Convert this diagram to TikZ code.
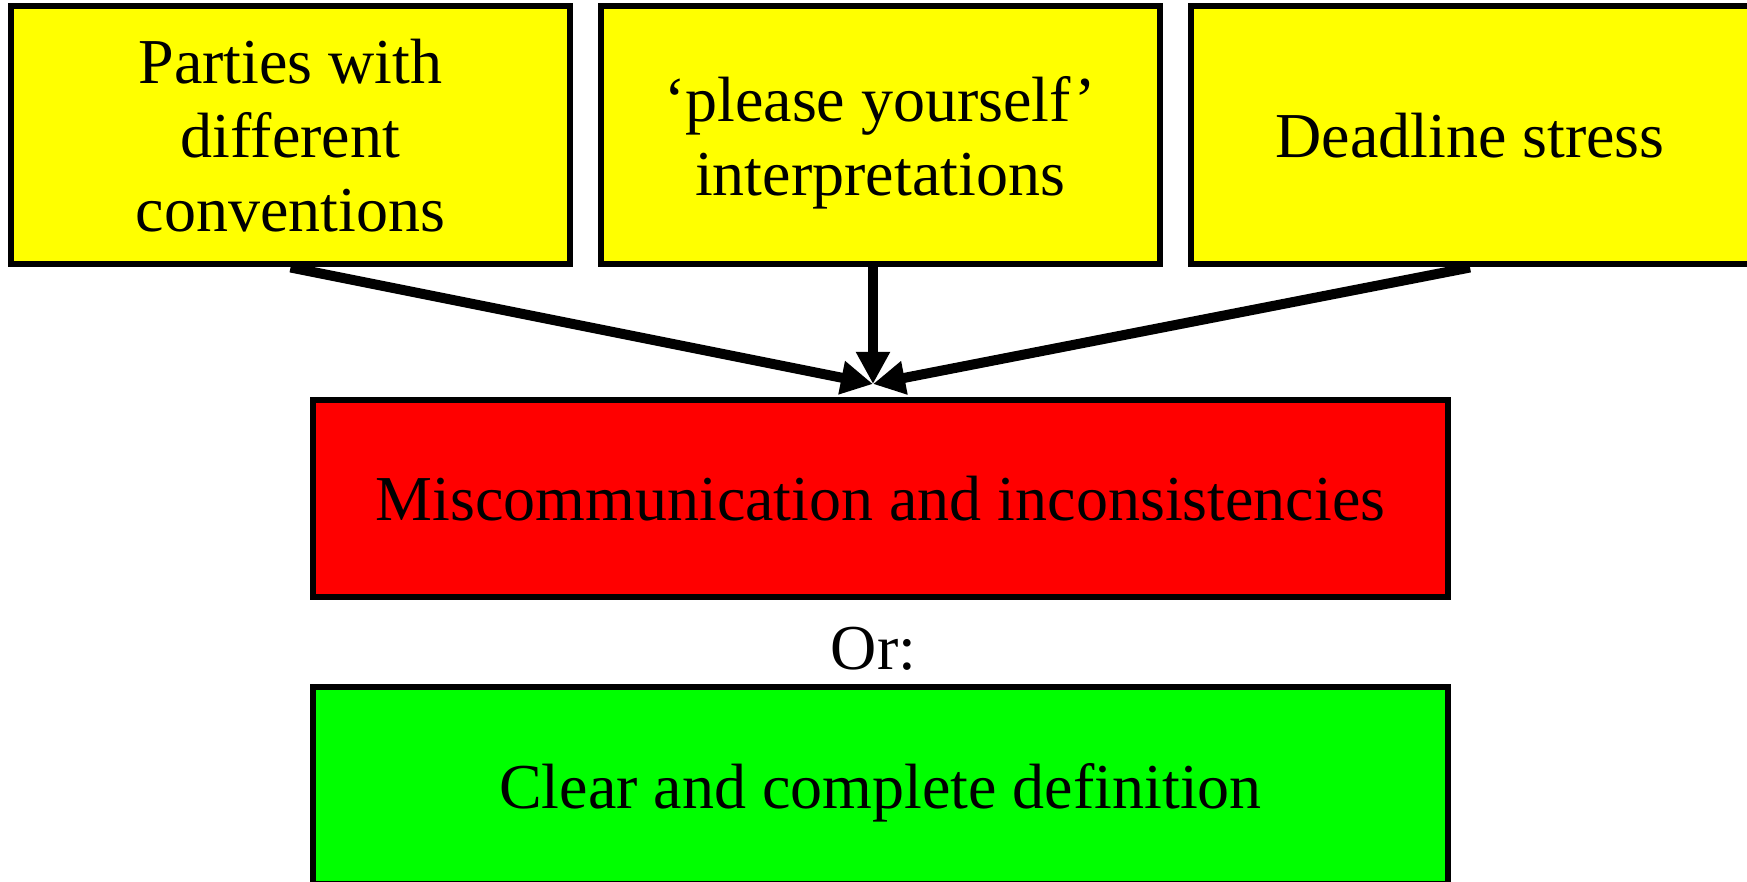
\documentclass[tikz,border=0pt]{standalone}
\usepackage{fontspec}
\setmainfont{Liberation Serif}
\usetikzlibrary{arrows.meta}
\definecolor{causeyellow}{RGB}{255,255,0}
\definecolor{badred}{RGB}{255,0,0}
\definecolor{goodgreen}{RGB}{0,255,0}
\begin{document}
\begin{tikzpicture}[x=0.5pt, y=-0.5pt, >={Triangle[length=16pt,width=16pt]}, font=\fontsize{32}{37}\selectfont]
	\tikzset{box/.style={draw, line width=3pt, align=center, inner sep=0pt},
		cause/.style={box, fill=causeyellow, minimum width=279.5pt, minimum height=129pt},
		result/.style={box, minimum width=567.5pt, minimum height=98.5pt},
		link/.style={->, line width=5pt}}
	\useasboundingbox (0,0) rectangle (1747,882);
	\node[cause] (parties) at (290.5,135.5) {Parties with\\different\\conventions};
	\node[cause, text depth=-4pt] (please) at (880,135.5) {‘please yourself’\\interpretations};
	\node[cause, text depth=-3pt] (deadline) at (1470,135.5) {Deadline stress};
	\node[result, fill=badred, text depth=-2pt] (miscomm) at (880.5,498.5) {Miscommunication and inconsistencies};
	\node (or) at (873.5,648.5) {Or:};
	\node[result, fill=goodgreen, text depth=-1pt] (clear) at (880.5,785.5) {Clear and complete definition};
	\coordinate (tip) at (873,384);
	\draw[link] (parties.south) -- (tip);
	\draw[link] (please.south -| tip) -- (tip);
	\draw[link] (deadline.south) -- (tip);
\end{tikzpicture}
\end{document}
